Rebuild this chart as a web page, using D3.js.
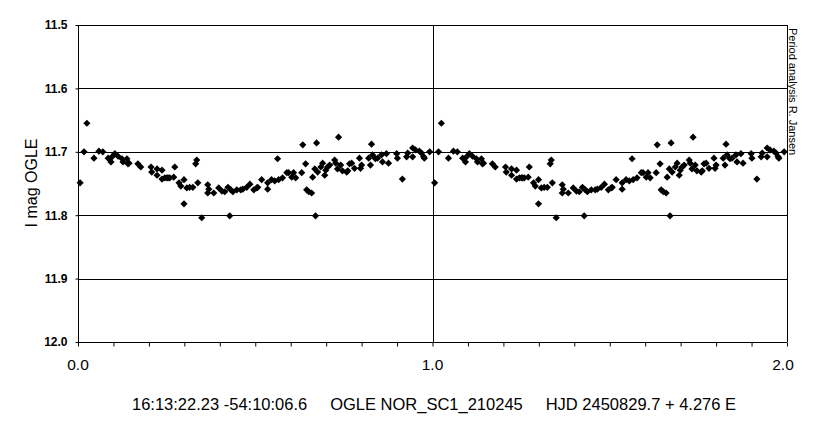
<!DOCTYPE html>
<html><head><meta charset="utf-8">
<script src="https://cdn.jsdelivr.net/npm/d3@7"></script>
<style>body{margin:0;background:#fff;}svg{display:block;font-family:"Liberation Sans",Arial,sans-serif;}</style>
</head><body><svg id="c" width="813" height="421"></svg>
<script>
const phase = [0.006,0.025,0.017,0.045,0.059,0.070,0.085,0.093,0.096,0.104,0.113,0.124,0.127,0.138,0.141,0.144,0.169,0.177,0.206,0.208,0.223,0.223,0.237,0.237,0.245,0.254,
0.251,0.259,0.270,0.273,0.285,0.290,0.299,0.299,0.307,0.315,0.324,0.332,0.335,0.338,0.349,0.366,0.369,0.366,0.383,0.397,0.406,0.414,0.423,0.428,0.431,0.437,0.448,0.459,0.465,0.476,0.485,0.496,0.507,
0.504,0.518,0.535,0.535,0.546,0.555,0.563,0.566,0.577,0.589,0.594,0.603,0.608,0.614,0.631,0.634,0.642,0.645,0.651,0.659,0.662,0.668,0.670,0.673,0.676,0.685,0.690,0.696,0.699,0.704,0.710,0.724,0.727,0.732,0.735,0.741,0.746,0.758,
0.761,0.766,0.772,0.780,0.794,0.797,0.800,0.820,0.825,0.828,0.831,0.839,0.845,0.856,0.859,0.870,0.876,0.899,0.901,0.915,0.927,0.930,0.944,0.944,0.952,0.963,0.969,0.975,0.977,0.992];
const imag = [11.749,11.655,11.700,11.710,11.699,11.700,11.710,11.716,11.708,11.703,11.707,11.711,11.716,11.711,11.719,11.718,11.719,11.724,11.724,11.732,11.727,11.737,11.729,11.743,11.741,11.741,
11.741,11.741,11.740,11.724,11.749,11.754,11.744,11.782,11.757,11.756,11.756,11.719,11.713,11.749,11.804,11.752,11.759,11.765,11.765,11.757,11.762,11.763,11.756,11.801,11.760,11.763,11.760,11.760,11.759,11.756,11.751,11.760,11.756,
11.757,11.744,11.759,11.749,11.744,11.746,11.711,11.744,11.741,11.733,11.733,11.740,11.733,11.741,11.733,11.689,11.719,11.760,11.763,11.765,11.740,11.727,11.801,11.686,11.732,11.724,11.718,11.737,11.729,11.724,11.721,11.713,11.718,11.727,11.677,11.721,11.730,11.732,
11.730,11.719,11.718,11.726,11.710,11.726,11.721,11.710,11.721,11.688,11.705,11.711,11.710,11.705,11.716,11.703,11.718,11.703,11.710,11.743,11.708,11.702,11.694,11.708,11.697,11.699,11.702,11.708,11.710,11.700];
const cycles = [0, 1];
const yTicks = [11.5, 11.6, 11.7, 11.8, 11.9, 12.0];
const xMajor = [0, 1, 2];
const yTitle = "I mag OGLE";
const caption = "16:13:22.23 -54:10:06.6     OGLE NOR_SC1_210245     HJD 2450829.7 + 4.276 E";
const sideNote = "Period analysis R. Jansen";

const svg = d3.select("#c");
const x = d3.scaleLinear().domain([0, 2]).range([78, 787]);
const y = d3.scaleLinear().domain([11.5, 12.0]).range([25, 342]);

svg.append("g").selectAll("line").data(yTicks).join("line")
  .attr("x1", x(0)).attr("x2", x(2))
  .attr("y1", d => Math.round(y(d)) + 0.5).attr("y2", d => Math.round(y(d)) + 0.5)
  .attr("stroke", "#000").attr("stroke-width", 1);
svg.append("g").selectAll("line").data(xMajor).join("line")
  .attr("x1", d => Math.round(x(d)) + 0.5).attr("x2", d => Math.round(x(d)) + 0.5)
  .attr("y1", y(11.5)).attr("y2", y(12.0))
  .attr("stroke", "#000").attr("stroke-width", 1);

const xAxis = d3.axisBottom(x).tickValues(d3.range(0, 21).map(i => i / 10)).tickSize(4).tickFormat("");
const gx = svg.append("g").attr("transform", `translate(0,${Math.round(y(12.0)) + 0.5})`).call(xAxis);
gx.select(".domain").remove();
gx.selectAll("line").attr("stroke", "#000");
svg.append("g").selectAll("text").data(xMajor).join("text")
  .attr("x", (d, i) => i === xMajor.length - 1 ? x(d) - 4 : x(d))
  .attr("y", 370)
  .attr("text-anchor", "middle")
  .attr("font-size", 15.5)
  .text(d => d.toFixed(1));

const yAxis = d3.axisLeft(y).tickValues(yTicks).tickSize(3).tickFormat(d => d.toFixed(1)).tickPadding(8);
const gy = svg.append("g").attr("transform", `translate(${Math.round(x(0)) + 0.5},0)`).call(yAxis);
gy.select(".domain").remove();
gy.selectAll("line").attr("stroke", "#000");
gy.selectAll("text").attr("font-size", 12).attr("font-weight", "bold").attr("font-family", "Liberation Sans, Arial, sans-serif").attr("fill", "#000");

const pts = [];
cycles.forEach(c => phase.forEach((p, i) => pts.push({p: p + c, m: imag[i]})));
const diamond = "M0,-3.6L3.6,0L0,3.6L-3.6,0Z";
svg.append("g").selectAll("path").data(pts).join("path")
  .attr("d", diamond)
  .attr("transform", d => `translate(${x(d.p)},${y(d.m)})`)
  .attr("fill", "#000");

svg.append("text")
  .attr("transform", `translate(37,183) rotate(-90)`)
  .attr("text-anchor", "middle")
  .attr("font-size", 16)
  .text(yTitle);

svg.append("text")
  .attr("transform", `translate(789,28) rotate(90)`)
  .attr("text-anchor", "start")
  .attr("font-size", 11)
  .text(sideNote);

svg.append("text")
  .attr("x", 434).attr("y", 410)
  .attr("text-anchor", "middle")
  .attr("font-size", 16.5)
  .style("white-space", "pre")
  .text(caption);
</script></body></html>
